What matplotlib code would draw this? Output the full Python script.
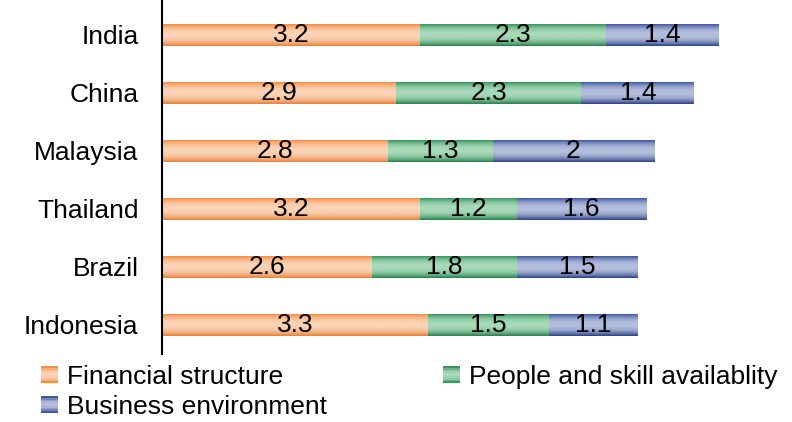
import numpy as np
import matplotlib.pyplot as plt
from matplotlib.colors import LinearSegmentedColormap
from matplotlib.patches import Patch, Rectangle
from matplotlib.legend_handler import HandlerBase

plt.rcParams['font.family'] = ['Liberation Sans', 'DejaVu Sans']

# data
countries = ["India", "China", "Malaysia", "Thailand", "Brazil", "Indonesia"]
financial = [3.2, 2.9, 2.8, 3.2, 2.6, 3.3]
people = [2.3, 2.3, 1.3, 1.2, 1.8, 1.5]
business = [1.4, 1.4, 2.0, 1.6, 1.5, 1.1]
series_names = ["Financial structure", "People and skill availablity", "Business environment"]

# edge (dark) and centre (light) colours for the gradient bars
dark = ["#F07F2E", "#22844A", "#25408C"]
light = ["#FBD3B6", "#A9D9BA", "#B4BEDC"]

fig = plt.figure(figsize=(7.92, 4.22), dpi=100)
ax = fig.add_axes([162 / 792, 68 / 422, 605 / 792, 354 / 422])

y = np.arange(len(countries))
left = np.zeros(len(countries))
t = np.linspace(0, 1, 64)
grad = (1 - np.abs(2 * t - 1) ** 2.2).reshape(-1, 1)

for vals, d, l in zip([financial, people, business], dark, light):
    bars = ax.barh(y, vals, left=left, height=0.38, color=d, edgecolor="none")
    cmap = LinearSegmentedColormap.from_list("g", [d, l])
    for b in bars:
        x0, y0 = b.get_x(), b.get_y()
        im = ax.imshow(grad, extent=[x0, x0 + b.get_width(), y0, y0 + b.get_height()],
                       cmap=cmap, aspect="auto", origin="lower", vmin=0, vmax=1, zorder=2)
        im.set_clip_path(b)
    ax.bar_label(bars, labels=["%g" % v for v in vals], label_type="center",
                 fontsize=19, color="black", zorder=3)
    left = left + np.array(vals)

ax.set_xlim(0, 7.5)
ax.set_ylim(len(countries) - 0.5, -0.6)
ax.set_yticks(y)
ax.set_yticklabels(countries, fontsize=19)
ax.tick_params(axis="y", length=0, pad=17)
ax.set_xticks([])
for s in ["top", "right", "bottom"]:
    ax.spines[s].set_visible(False)
ax.spines["left"].set_linewidth(1.5)


class GradientHandler(HandlerBase):
    # legend key drawn as thin horizontal strips, dark at the edges, light in the middle
    def create_artists(self, legend, orig_handle, xdescent, ydescent, width, height, fontsize, trans):
        d, l = orig_handle.dark, orig_handle.light
        cmap = LinearSegmentedColormap.from_list("g", [d, l])
        n = 10
        arts = []
        for i in range(n):
            tt = (i + 0.5) / n
            v = 1 - abs(2 * tt - 1) ** 2.2
            r = Rectangle((-xdescent, -ydescent + i * height / n), width, height / n + 0.3,
                          facecolor=cmap(v), edgecolor="none", transform=trans)
            arts.append(r)
        return arts


handles = []
for d, l in zip(dark, light):
    p = Patch(facecolor=d)
    p.dark, p.light = d, l
    handles.append(p)

# legend fills row by row in the reference: reorder for column-major layout
order = [0, 2, 1]
fig.legend([handles[i] for i in order], [series_names[i] for i in order],
           handler_map={Patch: GradientHandler()},
           loc="upper left", bbox_to_anchor=(41 / 792, 1 - 365 / 422),
           ncol=2, frameon=False, fontsize=19, handlelength=0.64, handleheight=0.57,
           handletextpad=0.34, columnspacing=4.4, labelspacing=0.22,
           borderaxespad=0, borderpad=0)

fig.savefig("out.png", dpi=100)
